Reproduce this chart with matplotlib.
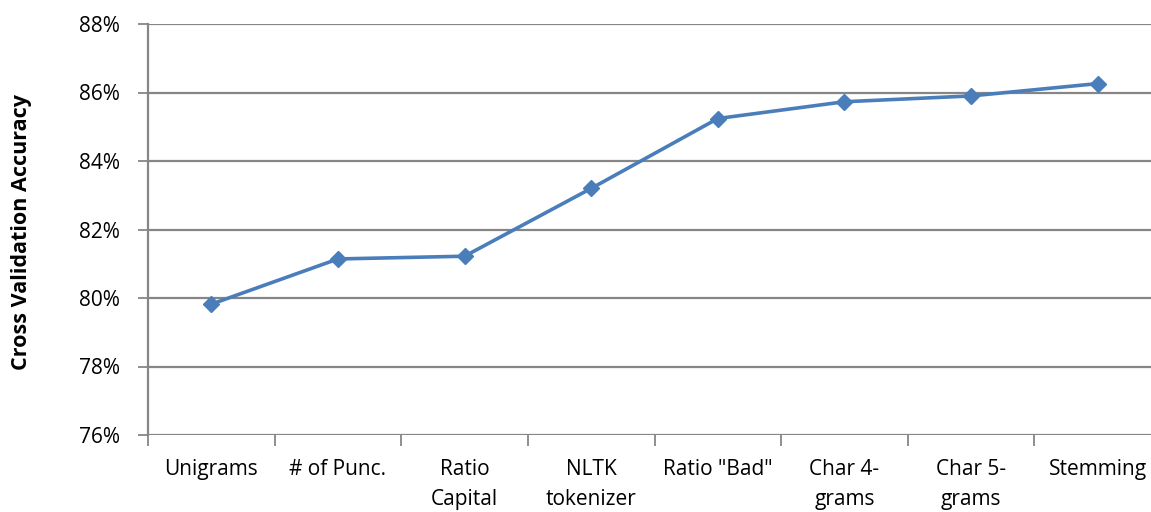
import numpy as np
import matplotlib
matplotlib.use("Agg")
import matplotlib.pyplot as plt
from matplotlib.ticker import FuncFormatter, FixedLocator

# Feature steps and accuracy (fraction)
categories = ["Unigrams", "# of Punc.", "Ratio\nCapital", "NLTK\ntokenizer",
              "Ratio \"Bad\"", "Char 4-\ngrams", "Char 5-\ngrams", "Stemming"]
accuracy = [0.7982, 0.8114, 0.8122, 0.8320, 0.8524, 0.8573, 0.8590, 0.8626]
y_ticks = [0.76, 0.78, 0.80, 0.82, 0.84, 0.86, 0.88]

plt.rcParams["font.family"] = ["Open Sans", "DejaVu Sans"]

W, H = 1151, 512
fig = plt.figure(figsize=(W / 100, H / 100), dpi=100)
ax = fig.add_axes([148 / W, (H - 435) / H, 1013 / W, 411 / H])

grid_col = "#868686"
line_col = "#4A7EBB"

x = np.arange(len(categories))
ax.plot(x, accuracy, color=line_col, linewidth=2.6, marker="D",
        markersize=8.5, markerfacecolor=line_col, markeredgecolor=line_col,
        zorder=5, clip_on=False)

ax.set_xlim(-0.5, len(categories) - 0.5)
ax.set_ylim(0.76, 0.88)
ax.set_yticks(y_ticks)
ax.yaxis.set_major_formatter(FuncFormatter(lambda v, p: f"{v * 100:.0f}%"))
ax.yaxis.grid(True, color=grid_col, linewidth=1.6)
ax.set_axisbelow(True)

# category labels centered, ticks at category boundaries
ax.set_xticks(x)
ax.set_xticklabels(categories, fontsize=15, linespacing=1.6, va="top")
ax.tick_params(axis="x", length=0, pad=17)
ax.xaxis.set_minor_locator(FixedLocator(np.arange(-0.5, len(categories), 1.0)))
ax.tick_params(axis="x", which="minor", length=8, width=1.3, color=grid_col)
ax.tick_params(axis="y", length=7, width=1.3, color=grid_col, labelsize=15, pad=13)

for s in ["top", "right", "bottom"]:
    ax.spines[s].set_visible(False)
ax.spines["left"].set_color(grid_col)
ax.spines["left"].set_linewidth(1.6)

fig.text(22 / W, (H - 232) / H, "Cross Validation Accuracy", rotation=90,
         ha="center", va="center", fontsize=15.5, fontweight="bold")

fig.savefig("out.png", dpi=100, facecolor="white")
